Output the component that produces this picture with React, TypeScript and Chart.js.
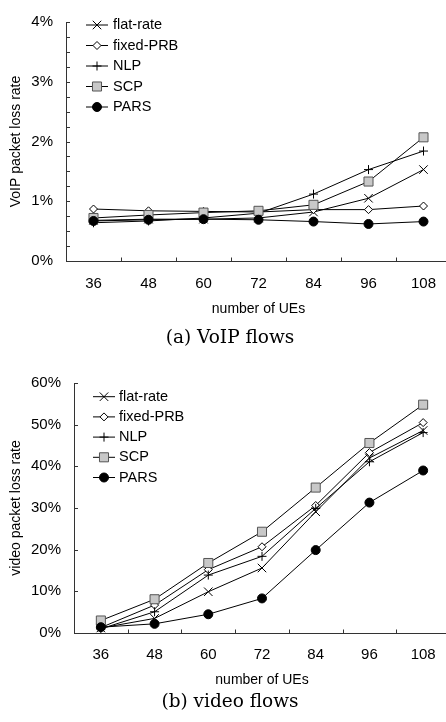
import React, { useEffect, useRef } from 'react';
import { Chart, registerables } from 'chart.js';
import { drawPoint } from 'chart.js/helpers';

Chart.register(...registerables);

// ---------- data ----------
const categories = ['36', '48', '60', '72', '84', '96', '108'];
const seriesNames = ['flat-rate', 'fixed-PRB', 'NLP', 'SCP', 'PARS'];

const voipFlatRate = [0.68, 0.7, 0.7, 0.72, 0.82, 1.05, 1.53];
const voipFixedPRB = [0.87, 0.84, 0.83, 0.82, 0.86, 0.86, 0.92];
const voipNLP = [0.64, 0.67, 0.72, 0.8, 1.12, 1.53, 1.84];
const voipSCP = [0.72, 0.77, 0.81, 0.84, 0.94, 1.33, 2.07];
const voipPARS = [0.67, 0.69, 0.7, 0.69, 0.66, 0.62, 0.66];

const videoFlatRate = [1.2, 3.5, 9.9, 15.6, 29.1, 42.0, 48.6];
const videoFixedPRB = [1.3, 6.7, 15.2, 20.7, 30.6, 43.3, 50.5];
const videoNLP = [1.0, 5.1, 13.9, 18.4, 29.9, 41.1, 48.1];
const videoSCP = [3.0, 8.1, 16.8, 24.3, 34.9, 45.6, 54.8];
const videoPARS = [1.4, 2.2, 4.5, 8.3, 19.9, 31.3, 39.0];

const voipAxisMax = 4;
const voipStep = 0.25;
const videoAxisMax = 60;
const videoStep = 10;

// ---------- styles ----------
const SANS = '"Liberation Sans", Arial, sans-serif';
const AXIS_COLOR = '#333333';
const markerStyles = [
  { pointStyle: 'crossRot', radius: 6, fill: '#000000', stroke: '#000000' },
  { pointStyle: 'rectRot', radius: 4, fill: '#ffffff', stroke: '#000000' },
  { pointStyle: 'cross', radius: 4.5, fill: '#000000', stroke: '#000000' },
  { pointStyle: 'rect', radius: 6.4, fill: '#c8c8c8', stroke: '#555555' },
  { pointStyle: 'circle', radius: 4.5, fill: '#000000', stroke: '#000000' },
];

function makeDatasets(series: number[][]) {
  return series.map((values, i) => ({
    label: seriesNames[i],
    data: values,
    borderColor: '#000000',
    borderWidth: 1,
    pointStyle: markerStyles[i].pointStyle,
    pointRadius: markerStyles[i].radius,
    pointBackgroundColor: markerStyles[i].fill,
    pointBorderColor: markerStyles[i].stroke,
    pointBorderWidth: 1,
    tension: 0,
    fill: false,
    order: series.length - i,
  }));
}

// inward tick marks
const innerTicks = {
  id: 'innerTicks',
  afterDraw(chart: any) {
    const { ctx, chartArea } = chart;
    const xs = chart.scales.x;
    const ys = chart.scales.y;
    ctx.save();
    ctx.strokeStyle = AXIS_COLOR;
    ctx.lineWidth = 1;
    ctx.beginPath();
    const ax = Math.round(chartArea.left) + 0.5;
    ys.ticks.forEach((t: any) => {
      const py = Math.round(ys.getPixelForValue(t.value)) + 0.5;
      ctx.moveTo(ax, py);
      ctx.lineTo(ax + 3.5, py);
    });
    const ay = Math.round(chartArea.bottom) + 0.5;
    for (let i = 0; i < categories.length - 1; i++) {
      const px = Math.round((xs.getPixelForValue(i) + xs.getPixelForValue(i + 1)) / 2) + 0.5;
      ctx.moveTo(px, ay);
      ctx.lineTo(px, ay - 4);
    }
    ctx.stroke();
    ctx.restore();
  },
};

// legend inside the plot area
const insideLegend = {
  id: 'insideLegend',
  afterDraw(chart: any, _args: any, opts: any) {
    const { ctx } = chart;
    chart.data.datasets.forEach((ds: any, i: number) => {
      const cy = opts.y + i * opts.spacing;
      ctx.save();
      ctx.strokeStyle = ds.borderColor;
      ctx.lineWidth = 1;
      ctx.beginPath();
      ctx.moveTo(opts.x, cy);
      ctx.lineTo(opts.x + opts.lineLength, cy);
      ctx.stroke();
      ctx.fillStyle = ds.pointBackgroundColor;
      ctx.strokeStyle = ds.pointBorderColor;
      ctx.lineWidth = ds.pointBorderWidth;
      drawPoint(
        ctx,
        { pointStyle: ds.pointStyle, radius: ds.pointRadius, borderWidth: 1, rotation: 0 },
        opts.x + opts.lineLength / 2,
        cy
      );
      ctx.fillStyle = '#000000';
      ctx.font = `14.5px ${SANS}`;
      ctx.textBaseline = 'middle';
      ctx.textAlign = 'left';
      ctx.fillText(ds.label, opts.x + opts.lineLength + opts.gap, cy);
      ctx.restore();
    });
  },
};

interface PanelProps {
  series: number[][];
  yMax: number;
  yStep: number;
  yTitle: string;
  width: number;
  height: number;
  padTop: number;
  padRight: number;
  yWidth: number;
  xHeight: number;
  xTickPad: number;
  xTitlePadBottom: number;
  legend: { x: number; y: number; spacing: number; lineLength: number; gap: number };
}

function Panel(p: PanelProps) {
  const ref = useRef<HTMLCanvasElement>(null);
  useEffect(() => {
    const chart = new Chart(ref.current as HTMLCanvasElement, {
      type: 'line',
      data: { labels: categories, datasets: makeDatasets(p.series) as any },
      options: {
        responsive: false,
        animation: false,
        devicePixelRatio: 1,
        layout: { padding: { top: p.padTop, right: p.padRight, left: 0, bottom: 0 } },
        plugins: {
          legend: { display: false },
          tooltip: { enabled: false },
          insideLegend: p.legend,
        } as any,
        scales: {
          x: {
            type: 'category',
            offset: true,
            grid: { display: true, drawOnChartArea: false, drawTicks: false },
            border: { display: true, color: AXIS_COLOR, width: 1 },
            ticks: { color: '#000', font: { family: SANS, size: 15 }, padding: p.xTickPad, maxRotation: 0 },
            title: {
              display: true,
              text: 'number of UEs',
              color: '#000',
              font: { family: SANS, size: 14 },
              padding: { top: 0, bottom: p.xTitlePadBottom },
            },
            afterFit: (s: any) => {
              s.height = p.xHeight;
            },
          },
          y: {
            min: 0,
            max: p.yMax,
            grid: { display: true, drawOnChartArea: false, drawTicks: false },
            border: { display: true, color: AXIS_COLOR, width: 1 },
            ticks: {
              stepSize: p.yStep,
              autoSkip: false,
              color: '#000',
              font: { family: SANS, size: 15 },
              padding: 13,
              callback: (v: any) => (Math.abs(v - Math.round(v)) < 1e-9 && Math.round(v) % (p.yMax === 4 ? 1 : 10) === 0 ? `${Math.round(v)}%` : ''),
            },
            title: {
              display: true,
              text: p.yTitle,
              color: '#000',
              font: { family: SANS, size: 14 },
              padding: { top: 7.6, bottom: 0 },
            },
            afterFit: (s: any) => {
              s.width = p.yWidth;
            },
          },
        },
      },
      plugins: [innerTicks, insideLegend],
    });
    return () => chart.destroy();
  }, []);
  return <canvas ref={ref} width={p.width} height={p.height} style={{ display: 'block', width: p.width, height: p.height }} />;
}

const captionStyle: React.CSSProperties = {
  position: 'absolute',
  left: 0,
  width: 460,
  textAlign: 'center',
  fontFamily: '"DejaVu Serif", serif',
  fontSize: 18.5,
  lineHeight: '20px',
  color: '#000',
  whiteSpace: 'nowrap',
};

export default function App() {
  return (
    <div style={{ position: 'absolute', left: 0, top: 0, width: 446, height: 722, overflow: 'hidden', background: '#fff' }}>
      <div style={{ position: 'absolute', left: 0, top: 0 }}>
        <Panel
          series={[voipFlatRate, voipFixedPRB, voipNLP, voipSCP, voipPARS]}
          yMax={voipAxisMax}
          yStep={voipStep}
          yTitle="VoIP packet loss rate"
          width={460}
          height={330}
          padTop={12}
          padRight={9}
          yWidth={66}
          xHeight={69}
          xTickPad={14}
          xTitlePadBottom={12}
          legend={{ x: 86, y: 25, spacing: 20.5, lineLength: 22, gap: 5 }}
        />
      </div>
      <div style={{ ...captionStyle, top: 327 }}>(a) VoIP flows</div>
      <div style={{ position: 'absolute', left: 0, top: 340 }}>
        <Panel
          series={[videoFlatRate, videoFixedPRB, videoNLP, videoSCP, videoPARS]}
          yMax={videoAxisMax}
          yStep={videoStep}
          yTitle="video packet loss rate"
          width={460}
          height={382}
          padTop={43}
          padRight={10}
          yWidth={74}
          xHeight={89}
          xTickPad={13}
          xTitlePadBottom={33.6}
          legend={{ x: 93, y: 56.7, spacing: 20.2, lineLength: 22, gap: 4 }}
        />
      </div>
      <div style={{ ...captionStyle, top: 691 }}>(b) video flows</div>
    </div>
  );
}
